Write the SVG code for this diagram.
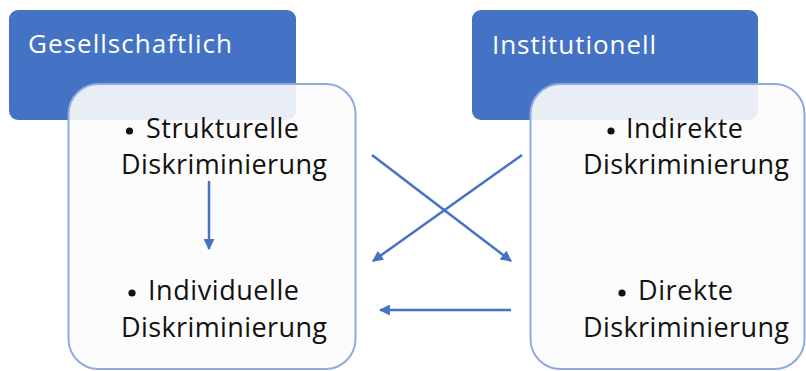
<svg xmlns="http://www.w3.org/2000/svg" width="806" height="371" viewBox="0 0 806 371">
  <style>
    .hdr { fill: #4472C4; }
    .card { fill: #fcfcfc; fill-opacity: 0.9; stroke: #8FAADC; stroke-width: 2; }
    .ht { font-family: "Open Sans", "Liberation Sans", sans-serif; font-size: 26px; fill: #ffffff; }
    .bt { font-family: "Open Sans", "Liberation Sans", sans-serif; font-size: 27px; fill: #111111; }
    .dot { fill: #111111; }
    .conn { stroke: #4472C4; stroke-width: 2.5; fill: none; marker-end: url(#ah); }
  </style>
  <defs>
    <marker id="ah" viewBox="0 0 10 10" refX="9" refY="5" markerWidth="4.4" markerHeight="4.4" orient="auto" markerUnits="strokeWidth">
      <path d="M0,0 L10,5 L0,10 Z" fill="#4472C4"/>
    </marker>
  </defs>
  <rect x="0" y="0" width="806" height="371" fill="#ffffff"/>

  <g id="node-gesellschaftlich">
    <rect class="hdr" x="9" y="10" width="287" height="110" rx="9"/>
    <text class="ht" x="28" y="53" textLength="204">Gesellschaftlich</text>
  </g>
  <g id="node-institutionell">
    <rect class="hdr" x="472" y="10" width="286" height="110" rx="9"/>
    <text class="ht" x="492" y="54" textLength="164">Institutionell</text>
  </g>

  <g id="node-left-card">
    <rect class="card" x="68.5" y="84" width="287" height="285" rx="30"/>
    <circle class="dot" cx="129.5" cy="131" r="3.6"/>
    <text class="bt" x="146" y="138" textLength="153">Strukturelle</text>
    <text class="bt" x="121" y="174" textLength="206">Diskriminierung</text>
    <circle class="dot" cx="132" cy="293" r="3.6"/>
    <text class="bt" x="148" y="300" textLength="151">Individuelle</text>
    <text class="bt" x="121" y="337" textLength="206">Diskriminierung</text>
  </g>

  <g id="node-right-card">
    <rect class="card" x="530.5" y="84" width="274" height="285" rx="30"/>
    <circle class="dot" cx="611" cy="131" r="3.6"/>
    <text class="bt" x="626" y="138" textLength="117">Indirekte</text>
    <text class="bt" x="583" y="174" textLength="206">Diskriminierung</text>
    <circle class="dot" cx="622" cy="293" r="3.6"/>
    <text class="bt" x="638" y="300" textLength="95">Direkte</text>
    <text class="bt" x="583" y="337" textLength="206">Diskriminierung</text>
  </g>

  <g id="connectors">
    <line class="conn" x1="209" y1="181" x2="209" y2="249"/>
    <line class="conn" x1="372" y1="155" x2="511" y2="261"/>
    <line class="conn" x1="522" y1="155" x2="373" y2="261"/>
    <line class="conn" x1="511" y1="310" x2="380" y2="310"/>
  </g>
</svg>
